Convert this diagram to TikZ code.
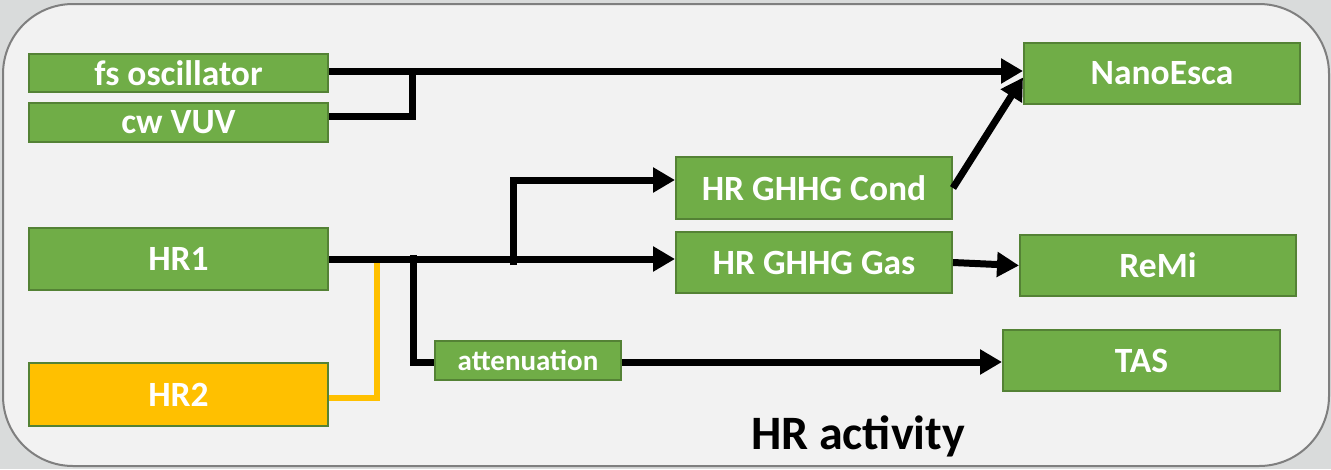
\documentclass[tikz,border=0pt]{standalone}
\usepackage{fontspec}
\setmainfont{Carlito}
\usetikzlibrary{arrows.meta}
\definecolor{boxgreen}{HTML}{70AD47}
\definecolor{boxedge}{HTML}{548235}
\definecolor{hryellow}{HTML}{FFC000}
\definecolor{panelfill}{HTML}{F2F2F2}
\definecolor{paneledge}{HTML}{7F7F7F}
\definecolor{surround}{HTML}{D9DBDB}
\begin{document}
\begin{tikzpicture}[x=1pt,y=-1pt,
  block/.style={draw=boxedge, line width=2pt, fill=boxgreen, text=white,
    font=\bfseries\fontsize{35.5}{38}\selectfont, inner sep=0pt},
  wide/.style={minimum width=299pt},
  mid/.style={minimum width=276pt},
  beam/.style={line width=7pt, draw=black},
  tip/.style={-{Triangle[length=22pt,width=24pt]}},
  hrline/.style={line width=6pt, draw=hryellow}]
  % surroundings and rounded panel
  \fill[surround] (0,0) rectangle (1331,469);
  \draw[paneledge, line width=2pt, fill=panelfill, rounded corners=70pt]
    (3,4) rectangle (1329,466);
  \useasboundingbox (0,0) rectangle (1331,469);

  % sources
  \node[block, wide, minimum height=38pt] (fs) at (178.5,73) {fs oscillator};
  \node[block, wide, minimum height=39pt] (cw) at (178.5,122.5) {cw VUV};
  \node[block, wide, minimum height=62pt] (hr1) at (178.5,259) {HR1};
  \node[block, wide, minimum height=63pt, fill=hryellow] (hr2) at (178.5,394.5) {HR2};

  % intermediate stages
  \node[block, mid, minimum height=62pt] (cond) at (814,188) {HR GHHG Cond};
  \node[block, mid, minimum height=61pt] (gas) at (814,262.5) {HR GHHG Gas};
  \node[block, minimum width=186pt, minimum height=39pt,
    font=\bfseries\fontsize{29}{32}\selectfont] (att) at (528,360.5) {attenuation};

  % end stations
  \node[block, mid, minimum height=61pt] (nano) at (1162,73.5) {NanoEsca};
  \node[block, mid, minimum height=61pt] (remi) at (1158,265.5) {ReMi};
  \node[block, minimum width=277pt, minimum height=61pt] (tas) at (1141.5,360.5) {TAS};

  \node[font=\bfseries\fontsize{48}{52}\selectfont, text=black] (title) at (858,436) {HR activity};

  % junction points
  \coordinate (j1) at (412,71);
  \coordinate (b1) at (513,265);
  \coordinate (b2) at (413,255);
  \coordinate (y1) at (377,257);

  % beam lines
  \draw[beam, tip] ([yshift=2pt]fs.east) -- ([yshift=2pt]fs.east -| nano.west);
  \draw[beam] ([yshift=6pt]cw.east) -| (j1);
  \draw[beam, tip] (cond.east) -- ([yshift=-4pt]nano.west);
  \draw[hrline] ([yshift=-3.5pt]hr2.east) -| (y1);
  \draw[beam, tip] (hr1.east) -- (hr1.east -| gas.west);
  \draw[beam, tip] (b1) |- ([yshift=8pt]cond.west);
  \draw[beam] (b2) |- ([yshift=-1.5pt]att.west);
  \draw[beam, tip] ([yshift=-1.5pt]att.east) -- ([yshift=-1.5pt]att.east -| tas.west);
  \draw[beam, tip] (gas.east) -- (remi.west);
\end{tikzpicture}
\end{document}
